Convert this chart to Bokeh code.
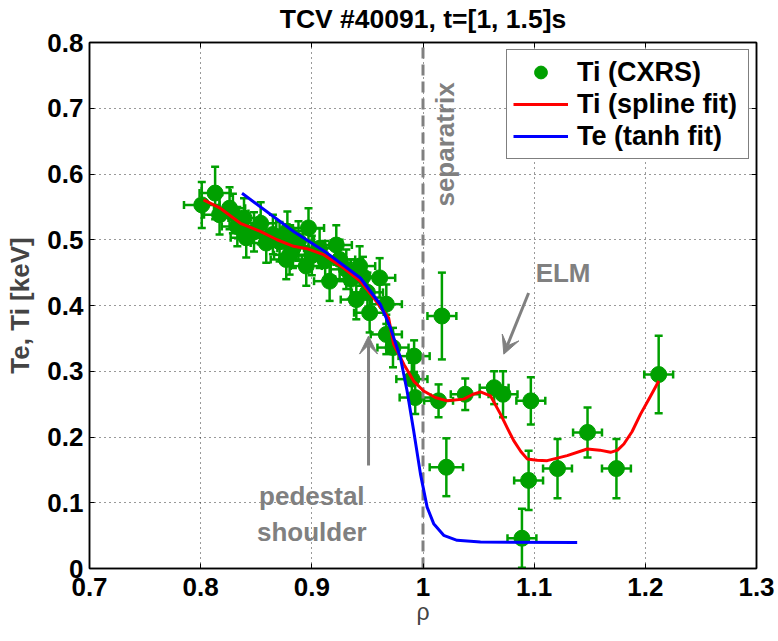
import math
from bokeh.plotting import figure
from bokeh.models import (ColumnDataSource, Whisker, TeeHead, Legend, LegendItem, Label,
                          Arrow, VeeHead, LinearAxis, FixedTicker, CustomJSTickFormatter)
from bokeh.embed import file_html
from bokeh.resources import INLINE

# ---------------- data ----------------
x_ticks = [0.7, 0.8, 0.9, 1.0, 1.1, 1.2, 1.3]
x_tick_labels = ["0.7", "0.8", "0.9", "1", "1.1", "1.2", "1.3"]
y_ticks = [0.0, 0.1, 0.2, 0.3, 0.4, 0.5, 0.6, 0.7, 0.8]
y_tick_labels = ["0", "0.1", "0.2", "0.3", "0.4", "0.5", "0.6", "0.7", "0.8"]

# Ti (CXRS) measurements
ti_rho = [0.801, 0.813, 0.817, 0.826, 0.829, 0.839, 0.833, 0.848, 0.854, 0.841,
          0.859, 0.865, 0.871, 0.877, 0.878, 0.883, 0.888, 0.880, 0.897, 0.895,
          0.900, 0.907, 0.912, 0.922, 0.916, 0.925, 0.931, 0.935, 0.943, 0.946,
          0.940, 0.952, 0.950, 0.961, 0.967, 0.967, 0.973,
          0.992, 0.990, 0.993, 1.017, 1.014, 1.038, 1.064, 1.072, 1.097,
          1.021, 1.095, 1.089, 1.121, 1.148, 1.174, 1.212]
ti_val = [0.553, 0.571, 0.538, 0.548, 0.540, 0.533, 0.520, 0.512, 0.525, 0.503,
          0.495, 0.508, 0.497, 0.470, 0.513, 0.487, 0.498, 0.477, 0.518, 0.460,
          0.476, 0.487, 0.468, 0.492, 0.437, 0.470, 0.455, 0.440, 0.460, 0.444,
          0.409, 0.389, 0.420, 0.442, 0.402, 0.356, 0.336,
          0.323, 0.288, 0.260, 0.384, 0.255, 0.265, 0.275, 0.265, 0.255,
          0.154, 0.134, 0.046, 0.152, 0.207, 0.152, 0.295]
ti_rho_err = [0.016, 0.014, 0.014, 0.014, 0.014, 0.014, 0.014, 0.014, 0.014, 0.014,
              0.014, 0.014, 0.014, 0.014, 0.014, 0.014, 0.014, 0.014, 0.014, 0.014,
              0.014, 0.014, 0.014, 0.014, 0.014, 0.014, 0.014, 0.014, 0.014, 0.014,
              0.014, 0.014, 0.014, 0.014, 0.014, 0.014, 0.014,
              0.014, 0.014, 0.014, 0.013, 0.013, 0.013, 0.013, 0.013, 0.013,
              0.015, 0.013, 0.013, 0.013, 0.013, 0.013, 0.013]
ti_val_err = [0.035, 0.040, 0.030, 0.032, 0.030, 0.030, 0.030, 0.030, 0.032, 0.030,
              0.030, 0.030, 0.030, 0.030, 0.030, 0.030, 0.030, 0.030, 0.030, 0.030,
              0.030, 0.030, 0.030, 0.030, 0.030, 0.030, 0.030, 0.030, 0.030, 0.030,
              0.030, 0.030, 0.030, 0.030, 0.030, 0.030, 0.030,
              0.024, 0.025, 0.025, 0.066, 0.025, 0.024, 0.025, 0.035, 0.036,
              0.044, 0.045, 0.045, 0.045, 0.038, 0.045, 0.059]

# Ti spline fit
spline_rho = [0.8026, 0.8176, 0.8357, 0.8537, 0.8687, 0.8836, 0.8957, 0.9106, 0.9286,
              0.9437, 0.9556, 0.9691, 0.9736, 0.9830, 0.9916, 1.0006, 1.0110, 1.0217,
              1.0366, 1.0450, 1.0517, 1.0607, 1.0697, 1.0760, 1.0816, 1.0880, 1.0937,
              1.1027, 1.1117, 1.1297, 1.1477, 1.1590, 1.1687, 1.1750, 1.1807, 1.1880,
              1.1957, 1.2040, 1.2121]
spline_ti = [0.5606, 0.548, 0.525, 0.5126, 0.500, 0.490, 0.4864, 0.4773, 0.457,
             0.4368, 0.4115, 0.381, 0.341, 0.310, 0.285, 0.270, 0.260, 0.255,
             0.2576, 0.265, 0.2686, 0.2626, 0.2348, 0.213, 0.1944, 0.178, 0.1667,
             0.1645, 0.164, 0.1717, 0.1818, 0.180, 0.1767, 0.180, 0.1894, 0.208,
             0.2348, 0.260, 0.2853]

# Te tanh fit
tanh_rho = [0.8372, 0.8836, 0.9137, 0.9437, 0.9617, 0.9707, 0.9797, 0.9857, 0.9916,
            0.9977, 1.0037, 1.0096, 1.0186, 1.0307, 1.0517, 1.1387]
tanh_te = [0.5706, 0.5126, 0.4797, 0.4418, 0.4015, 0.366, 0.3206, 0.270, 0.2095,
           0.1439, 0.0933, 0.0682, 0.0505, 0.0429, 0.0403, 0.0394]

separatrix_rho = 1.0
title_text = "TCV #40091, t=[1, 1.5]s"

# ---------------- style ----------------
FONT = "Liberation Sans"
GREEN = "#00a000"
GRAY = "#808080"
X_MIN, X_MAX = 0.7, 1.3
Y_MIN, Y_MAX = 0.0, 0.8

p = figure(width=778, height=641, x_range=(X_MIN, X_MAX), y_range=(Y_MIN, Y_MAX),
           output_backend="svg", toolbar_location=None, title_location=None,
           min_border_left=89, min_border_right=22, min_border_top=41, min_border_bottom=73)
p.background_fill_color = "white"
p.border_fill_color = "white"
p.outline_line_color = "black"
p.outline_line_width = 1.5

fmt_code = """
const i = vals.findIndex(t => Math.abs(t - tick) < 1e-9);
return i >= 0 ? labels[i] : '';
"""
xfmt = CustomJSTickFormatter(args=dict(vals=x_ticks, labels=x_tick_labels), code=fmt_code)
yfmt = CustomJSTickFormatter(args=dict(vals=y_ticks, labels=y_tick_labels), code=fmt_code)
xt = FixedTicker(ticks=x_ticks)
yt = FixedTicker(ticks=y_ticks)

for ax, tk, fm in ((p.xaxis[0], xt, xfmt), (p.yaxis[0], yt, yfmt)):
    ax.ticker = tk
    ax.formatter = fm
    ax.major_label_text_font = FONT
    ax.major_label_text_font_style = "bold"
    ax.major_label_text_font_size = "26px"
    ax.major_label_text_color = "black"
    ax.major_tick_in = 5
    ax.major_tick_out = 0
    ax.minor_tick_line_color = None
    ax.axis_line_width = 1.5
    ax.major_tick_line_width = 1

p.xaxis.major_label_standoff = 9
p.yaxis.major_label_standoff = 6
p.xaxis.axis_label = "ρ"
p.xaxis.axis_label_text_font = FONT
p.xaxis.axis_label_text_font_style = "normal"
p.xaxis.axis_label_text_font_size = "23px"
p.xaxis.axis_label_standoff = 0
p.yaxis.axis_label = "Te, Ti [keV]"
p.yaxis.axis_label_text_font = FONT
p.yaxis.axis_label_text_font_style = "bold"
p.yaxis.axis_label_text_font_size = "26px"
p.yaxis.axis_label_standoff = 9

# box ticks on top / right (no tick labels); the top axis carries the title
blank = CustomJSTickFormatter(code="return '';")
right_ax = LinearAxis(ticker=yt, formatter=blank, major_label_text_font_size="1px",
                      major_label_standoff=0, major_tick_in=5, major_tick_out=0,
                      minor_tick_line_color=None, axis_line_width=1.5)
p.add_layout(right_ax, "right")
top_ax = LinearAxis(ticker=xt, formatter=blank, major_label_text_font_size="1px",
                    major_label_standoff=0, major_tick_in=5, major_tick_out=0,
                    minor_tick_line_color=None, axis_line_width=1.5,
                    axis_label=title_text, axis_label_standoff=9,
                    axis_label_text_font=FONT, axis_label_text_font_style="bold",
                    axis_label_text_font_size="26.5px", axis_label_text_color="black")
p.add_layout(top_ax, "above")

p.xgrid.ticker = xt
p.ygrid.ticker = yt
for g in (p.xgrid[0], p.ygrid[0]):
    g.grid_line_color = "black"
    g.grid_line_dash = "1 4"
    g.grid_line_width = 1
    g.grid_line_alpha = 0.8

# ---------------- data glyphs ----------------
src = ColumnDataSource(dict(
    x=ti_rho, y=ti_val,
    ylo=[v - e for v, e in zip(ti_val, ti_val_err)],
    yhi=[v + e for v, e in zip(ti_val, ti_val_err)],
    xlo=[v - e for v, e in zip(ti_rho, ti_rho_err)],
    xhi=[v + e for v, e in zip(ti_rho, ti_rho_err)],
))

def head():
    return TeeHead(size=8, line_color=GREEN, line_width=2.5)

wy = Whisker(source=src, base="x", lower="ylo", upper="yhi", dimension="height",
             line_color=GREEN, line_width=2.5, upper_head=head(), lower_head=head(),
             level="underlay")
wx = Whisker(source=src, base="y", lower="xlo", upper="xhi", dimension="width",
             line_color=GREEN, line_width=2.5, upper_head=head(), lower_head=head(),
             level="underlay")
p.add_layout(wy)
p.add_layout(wx)

pts = p.scatter("x", "y", source=src, size=16, marker="circle",
                fill_color=GREEN, line_color=GREEN)

p.segment(x0=[separatrix_rho], y0=[Y_MIN], x1=[separatrix_rho], y1=[Y_MAX],
          line_color=GRAY, line_width=3, line_dash="11 6")

red = p.line(spline_rho, spline_ti, line_color="#ff0000", line_width=3, line_join="round")
blue = p.line(tanh_rho, tanh_te, line_color="#0000ff", line_width=3, line_join="round")

legend = Legend(items=[LegendItem(label="Ti (CXRS)", renderers=[pts], index=0),
                       LegendItem(label="Ti (spline fit)", renderers=[red]),
                       LegendItem(label="Te (tanh fit)", renderers=[blue])],
                location=(417, 409), orientation="vertical",
                padding=6, spacing=0, margin=0,
                glyph_width=55, glyph_height=32, label_height=32,
                label_standoff=9, label_width=165,
                label_text_font=FONT, label_text_font_style="bold",
                label_text_font_size="27px", label_text_color="black",
                border_line_color="black", border_line_width=1.5,
                background_fill_color="white", background_fill_alpha=1.0)
p.add_layout(legend)

# ---------------- annotations ----------------
def lab(x, y, text, align="center", angle=0.0):
    return Label(x=x, y=y, text=text, text_font=FONT, text_font_style="bold",
                 text_font_size="26px", text_color=GRAY, text_align=align,
                 text_baseline="alphabetic", angle=angle)

p.add_layout(lab(1.020, 0.5505, "separatrix", align="left", angle=math.pi / 2))
p.add_layout(lab(1.126, 0.450, "ELM"))
p.add_layout(lab(0.90, 0.110, "pedestal"))
p.add_layout(lab(0.90, 0.055, "shoulder"))

p.add_layout(Arrow(x_start=1.095, y_start=0.419, x_end=1.0727, y_end=0.326,
                   line_color=GRAY, line_width=3,
                   end=VeeHead(size=18, fill_color=GRAY, line_color=GRAY)))
p.add_layout(Arrow(x_start=0.951, y_start=0.1565, x_end=0.951, y_end=0.3535,
                   line_color=GRAY, line_width=3,
                   end=VeeHead(size=18, fill_color=GRAY, line_color=GRAY)))

open("out.html", "w").write(file_html(p, INLINE))
